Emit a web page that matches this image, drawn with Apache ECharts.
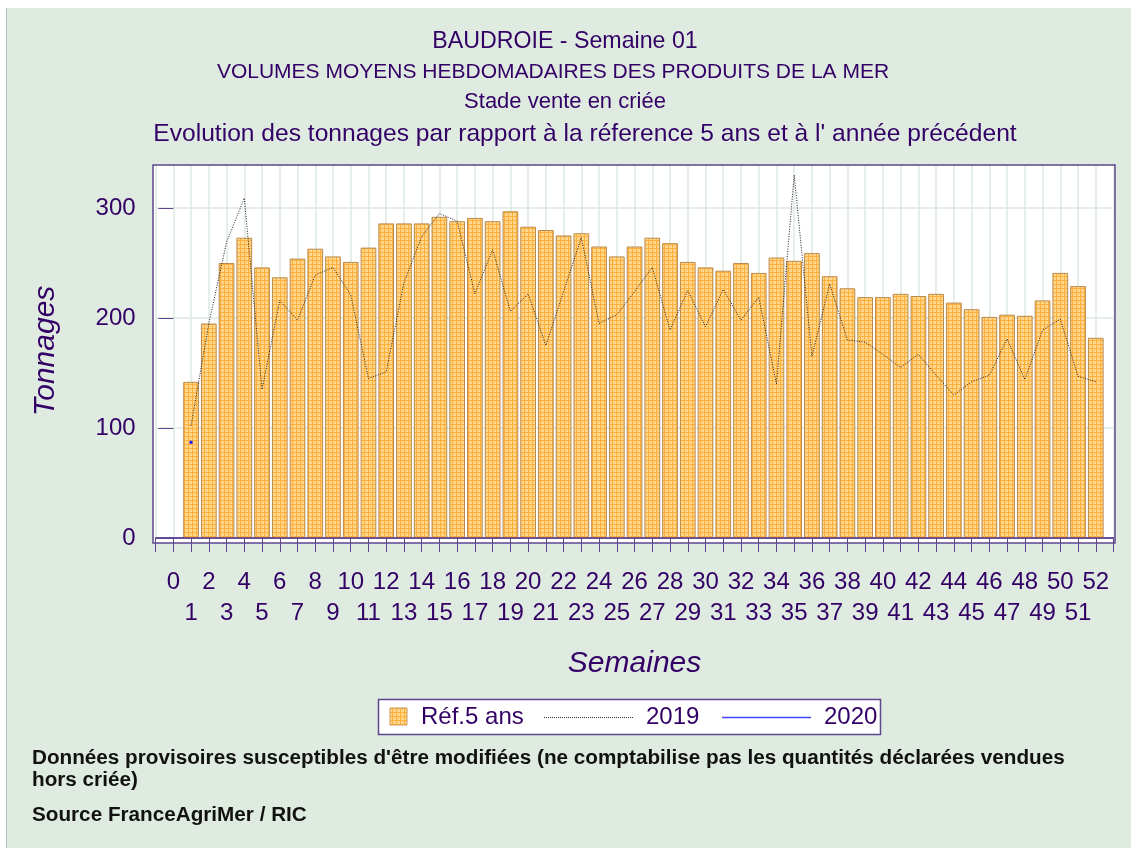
<!DOCTYPE html>
<html>
<head>
<meta charset="utf-8">
<script src="https://cdn.jsdelivr.net/npm/echarts@6/dist/echarts.min.js"></script>
<style>
  html, body { margin: 0; padding: 0; background: #fff; }
  #chart { width: 1131px; height: 848px; }
</style>
</head>
<body>
<div id="chart"></div>
<script>
// semaines 1..52
var weeks = [];
for (var w = 1; w <= 52; w++) weeks.push(w);

// Réf.5 ans (barres)
var ref5 = [142, 195, 250, 273, 246, 237, 254, 263, 256, 251, 264, 286, 286, 286, 292, 288,
  291, 288, 297, 283, 280, 275, 277, 265, 256, 265, 273, 268, 251, 246, 243, 250,
  241, 255, 252, 259, 238, 227, 219, 219, 222, 220, 222, 214, 208, 201, 203, 202,
  216, 241, 229, 182];

// 2019 (ligne pointillée)
var y2019 = [102, 195, 269, 309, 135, 216, 198, 239, 246, 221, 145, 151, 232, 274, 295, 288,
  222, 262, 206, 222, 175, 224, 273, 195, 203, 224, 246, 189, 225, 192, 226, 198,
  219, 140, 330, 165, 231, 180, 178, 167, 155, 167, 148, 130, 142, 148, 181, 144,
  189, 199, 147, 142];

// 2020 (une seule semaine)
var y2020 = [87];

var yTicks = [0, 100, 200, 300];

var purple = '#330066';
var frame = '#5e4590';
var blue = '#4545ff';

function pair(arr) {
  return arr.map(function (v, i) { return [weeks[i], v]; });
}

// motif quadrillé orange des barres
var pat = document.createElement('canvas');
pat.width = 4; pat.height = 4;
var ctx = pat.getContext('2d');
ctx.fillStyle = '#ffd68c';
ctx.fillRect(0, 0, 4, 4);
ctx.fillStyle = '#ffb03a';
ctx.fillRect(0, 0, 4, 1);
ctx.fillRect(0, 0, 1, 4);
var barFill = { image: pat, repeat: 'repeat' };

var chart = echarts.init(document.getElementById('chart'));
var font = 'Liberation Sans, Arial, sans-serif';

chart.setOption({
  backgroundColor: '#dfebe1',
  animation: false,
  textStyle: { fontFamily: font },
  grid: { left: 155.6, right: 17.5, top: 164, bottom: 310 },
  xAxis: {
    type: 'value',
    min: -1, max: 53, interval: 1,
    offset: 5,
    name: 'Semaines',
    nameLocation: 'middle',
    nameGap: 106,
    nameTextStyle: { fontSize: 30, fontStyle: 'italic', color: purple, fontFamily: font },
    axisLine: { lineStyle: { color: frame, width: 1.5 } },
    axisTick: { length: 14, lineStyle: { color: frame } },
    axisLabel: {
      fontSize: 24, color: purple, margin: 24, lineHeight: 31,
      formatter: function (v) {
        if (v < 0 || v > 52) return '';
        return v % 2 === 0 ? String(v) : '\n' + v;
      }
    },
    splitLine: { show: true, lineStyle: { color: '#dde9e1', width: 1.5 } }
  },
  yAxis: {
    type: 'value',
    min: 0, max: 340, interval: 100,
    name: 'Tonnages',
    nameLocation: 'middle',
    nameGap: 95,
    nameTextStyle: { fontSize: 30, fontStyle: 'italic', color: purple, fontFamily: font },
    axisLine: { show: false },
    axisTick: { show: true, length: 15, customValues: yTicks, lineStyle: { color: frame } },
    axisLabel: { fontSize: 24, color: purple, margin: 20, customValues: yTicks },
    splitLine: { show: true, lineStyle: { color: '#dde9e1', width: 1.5 } }
  },
  series: [
    {
      name: 'Réf.5 ans',
      type: 'bar',
      data: pair(ref5),
      barWidth: 15.7,
      itemStyle: { color: barFill, borderColor: '#b98a4c', borderWidth: 1 },
      markLine: {
        silent: true, symbol: 'none', label: { show: false },
        lineStyle: { color: frame, type: 'solid', width: 1.5 },
        data: [{ yAxis: 0 }]
      }
    },
    {
      name: '2019',
      type: 'line',
      data: pair(y2019),
      showSymbol: false,
      lineStyle: { color: '#222', width: 1, type: [1, 1.5] },
      z: 3
    },
    {
      name: '2020',
      type: 'line',
      data: pair(y2020),
      symbol: 'rect',
      symbolSize: 3,
      itemStyle: { color: '#1a1aff' },
      lineStyle: { color: blue, width: 1 },
      z: 4
    }
  ],
  graphic: [
    // bord de l'image
    { type: 'rect', z: -30, shape: { x: 0, y: 0, width: 1131, height: 8 }, style: { fill: '#fff' } },
    { type: 'rect', z: -30, shape: { x: 0, y: 0, width: 6, height: 848 }, style: { fill: '#fff' } },
    { type: 'line', z: -29, shape: { x1: 6.5, y1: 8, x2: 6.5, y2: 848 }, style: { stroke: '#b8c4bb', lineWidth: 1 } },
    // fond blanc et cadre de la zone de tracé
    { type: 'rect', z: -20, shape: { x: 153, y: 165, width: 962, height: 378 }, style: { fill: '#fff' } },
    { type: 'rect', z: 20, shape: { x: 153, y: 165, width: 962, height: 378 }, style: { fill: null, stroke: frame, lineWidth: 1.5 } },
    // titres
    { type: 'text', x: 565, y: 42, style: { text: 'BAUDROIE - Semaine 01', font: '23.2px ' + font, fill: purple, textAlign: 'center', textVerticalAlign: 'middle' } },
    { type: 'text', x: 553, y: 72, style: { text: 'VOLUMES MOYENS HEBDOMADAIRES DES PRODUITS DE LA MER', font: '21px ' + font, fill: purple, textAlign: 'center', textVerticalAlign: 'middle' } },
    { type: 'text', x: 565, y: 102, style: { text: 'Stade vente en criée', font: '22px ' + font, fill: purple, textAlign: 'center', textVerticalAlign: 'middle' } },
    { type: 'text', x: 585, y: 134, style: { text: "Evolution des tonnages par rapport à la réference 5 ans et à l' année précédent", font: '24.6px ' + font, fill: purple, textAlign: 'center', textVerticalAlign: 'middle' } },
    // légende
    { type: 'rect', shape: { x: 378.5, y: 699.5, width: 502, height: 35 }, style: { fill: '#fff', stroke: frame, lineWidth: 1.5 } },
    { type: 'rect', shape: { x: 390, y: 708, width: 17, height: 17 }, style: { fill: barFill, stroke: '#c99a5a', lineWidth: 1 } },
    { type: 'text', x: 421, y: 717, style: { text: 'Réf.5 ans', font: '24px ' + font, fill: purple, textVerticalAlign: 'middle' } },
    { type: 'line', shape: { x1: 544, y1: 717.5, x2: 633, y2: 717.5 }, style: { stroke: '#333', lineWidth: 1, lineDash: [1, 1] } },
    { type: 'text', x: 646, y: 717, style: { text: '2019', font: '24px ' + font, fill: purple, textVerticalAlign: 'middle' } },
    { type: 'line', shape: { x1: 722, y1: 717.5, x2: 811, y2: 717.5 }, style: { stroke: blue, lineWidth: 1.3 } },
    { type: 'text', x: 824, y: 717, style: { text: '2020', font: '24px ' + font, fill: purple, textVerticalAlign: 'middle' } },
    // notes
    { type: 'text', x: 32, y: 747, style: { text: "Données provisoires susceptibles d'être modifiées (ne comptabilise pas les quantités déclarées vendues\nhors criée)", font: 'bold 20.7px ' + font, fill: '#111', lineHeight: 22, textVerticalAlign: 'top' } },
    { type: 'text', x: 32, y: 815, style: { text: 'Source FranceAgriMer / RIC', font: 'bold 20.7px ' + font, fill: '#111', textVerticalAlign: 'middle' } }
  ]
});
window.addEventListener('resize', function () { chart.resize(); });
</script>
</body>
</html>
